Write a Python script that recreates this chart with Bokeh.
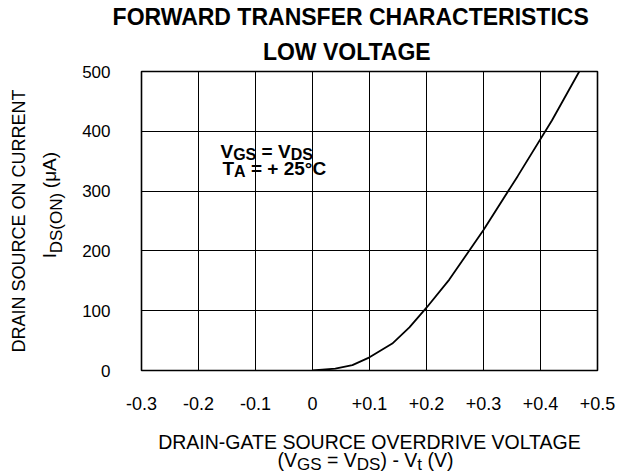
import math
from bokeh.plotting import figure
from bokeh.models import Range1d, FixedTicker, Label, LinearAxis, Title
from bokeh.embed import file_html
from bokeh.resources import INLINE

# ---- data ----
overdrive_v = [0.0, 0.04, 0.07, 0.1, 0.14, 0.17, 0.2, 0.24, 0.3, 0.36, 0.42, 0.468]
drain_current_ua = [0, 3, 9, 22, 45, 72, 105, 152, 235, 325, 418, 500]
x_ticks = [-0.3, -0.2, -0.1, 0, 0.1, 0.2, 0.3, 0.4, 0.5]
x_tick_labels = ["-0.3", "-0.2", "-0.1", "0", "+0.1", "+0.2", "+0.3", "+0.4", "+0.5"]
y_ticks = [0, 100, 200, 300, 400, 500]

title_lines = ["FORWARD TRANSFER CHARACTERISTICS", "LOW VOLTAGE"]
y_title_1 = "DRAIN SOURCE ON CURRENT"
y_title_2 = [("I", False), ("DS(ON)", True), (" (μA)", False)]
x_title_1 = "DRAIN-GATE SOURCE OVERDRIVE VOLTAGE"
x_title_2 = [("(V", False), ("GS", True), (" = V", False), ("DS", True), (") - V", False),
             ("t", True), (" (V)", False)]
note_1 = [("V", False), ("GS", True), (" = V", False), ("DS", True)]
note_2 = [("T", False), ("A", True), (" = + 25°C", False)]

FONT = "Liberation Sans"
W, H = 623, 476
FL, FR, FT, FB = 141, 597, 71, 373          # frame edges (canvas px)
X0, X1 = -0.3, 0.5
Y0, Y1 = 0, 500

p = figure(width=W, height=H, x_range=Range1d(X0, X1), y_range=Range1d(Y0, Y1),
           output_backend="svg", toolbar_location=None, title_location=None,
           min_border_left=FL, min_border_right=W - FR, min_border_top=FT,
           min_border_bottom=H - FB)
p.background_fill_color = "white"
p.border_fill_color = "white"
p.outline_line_color = "black"
p.outline_line_width = 1.6
p.outline_line_alpha = 1.0


def plain_axis(ax):
    ax.axis_line_color = None
    ax.major_tick_line_color = None
    ax.minor_tick_line_color = None
    ax.major_tick_out = 0
    ax.major_tick_in = 0
    ax.minor_tick_out = 0
    ax.minor_tick_in = 0
    ax.major_label_text_font = FONT
    ax.major_label_text_color = "black"
    ax.axis_label_text_font = FONT
    ax.axis_label_text_font_style = "normal"
    ax.axis_label_text_color = "black"


xa = p.xaxis[0]
ya = p.yaxis[0]
plain_axis(xa)
plain_axis(ya)
xa.ticker = FixedTicker(ticks=x_ticks)
xa.major_label_overrides = {t: l for t, l in zip(x_ticks, x_tick_labels)}
xa.major_label_text_font_size = "18px"
xa.major_label_standoff = 26
xa.axis_label = x_title_1
xa.axis_label_text_font_size = "19.5px"
xa.axis_label_standoff = 18

ya.ticker = FixedTicker(ticks=y_ticks)
ya.major_label_text_font_size = "17px"
ya.major_label_standoff = 31

p.xgrid.ticker = FixedTicker(ticks=x_ticks)
p.ygrid.ticker = FixedTicker(ticks=y_ticks)
for g in (p.xgrid[0], p.ygrid[0]):
    g.grid_line_color = "black"
    g.grid_line_width = 1
    g.grid_line_alpha = 1.0

p.line(overdrive_v, drain_current_ua, line_color="black", line_width=1.8)

# ---- text metrics (Liberation Sans = Arial metrics) ----
REG = {' ': 278, '(': 333, ')': 333, '-': 333, '=': 584, '+': 584, '.': 278, '°': 400,
       'μ': 576, 'A': 667, 'C': 722, 'D': 722, 'G': 778, 'I': 278, 'N': 722, 'O': 778,
       'S': 667, 'T': 611, 'V': 667, 't': 278}
BOLD = {' ': 278, '=': 584, '+': 584, '°': 400, 'A': 722, 'C': 722, 'D': 722, 'G': 778,
        'S': 667, 'T': 611, 'V': 667, 'F': 611, 'O': 778, 'R': 722, 'W': 944, 'N': 722,
        'E': 667, 'H': 722, 'I': 278, 'L': 611}


def tw(s, size, bold=False):
    tab = BOLD if bold else REG
    return sum(tab.get(c, 556) for c in s) * size / 1000.0


def dx(px):
    return X0 + (px - FL) / (FR - FL) * (X1 - X0)


def dy(py):
    return Y0 + (FB - py) / (FB - FT) * (Y1 - Y0)


def layout_pieces(pieces, size, sub_size, bold=False):
    out = []
    off = 0.0
    for t, sub in pieces:
        s = sub_size if sub else size
        lead = len(t) - len(t.lstrip(' '))
        txt = t.strip(' ')
        out.append((txt, sub, off + tw(' ' * lead, s, bold), tw(txt, s, bold)))
        off += tw(t, s, bold)
    return out, off


def rich_axis(pieces, size, sub_size, center, side, std_norm, std_sub):
    items, total = layout_pieces(pieces, size, sub_size)
    norm_t, norm_l, sub_t, sub_l = [], [], [], []
    for txt, sub, o, w in items:
        if side == "below":
            c = dx(center - total / 2 + o + w / 2)
        else:
            c = dy(center + total / 2 - o - w / 2)
        (sub_t if sub else norm_t).append(c)
        (sub_l if sub else norm_l).append(txt)
    made = []
    for ticks, labs, fs, std in ((norm_t, norm_l, size, std_norm), (sub_t, sub_l, sub_size, std_sub)):
        ax = LinearAxis(ticker=FixedTicker(ticks=ticks))
        plain_axis(ax)
        ax.major_label_overrides = {t: l for t, l in zip(ticks, labs)}
        ax.major_label_text_font_size = f"{fs}px"
        ax.major_label_standoff = std
        if side == "left":
            ax.major_label_orientation = "parallel"
        made.append(ax)
    return made


# bottom: main x axis (ticks + line 1), then line 2 subscripts, then line 2 normal text
bn, bs = rich_axis(x_title_2, 19.5, 17, 365, "below", -28, -1)
p.add_layout(bs, "below")
p.add_layout(bn, "below")

# left: main y axis, then line 2 subscripts, then line 2 normal, then line 1
ln, ls = rich_axis(y_title_2, 19, 17, 206, "left", -16, 13)
p.add_layout(ls, "left")
p.add_layout(ln, "left")
l1 = LinearAxis(ticker=FixedTicker(ticks=[]))
plain_axis(l1)
l1.major_label_standoff = 0
l1.axis_label = y_title_1
l1.axis_label_text_font_size = "18px"
l1.axis_label_standoff = 8
p.add_layout(l1, "left")

# titles (first added is nearest the frame); left-aligned with offsets from frame left
T_SIZE = 23
t_centers = [351, 348]
for idx, std in ((1, 13), (0, 1)):
    txt = title_lines[idx]
    left = t_centers[idx] - tw(txt, T_SIZE, True) / 2
    p.add_layout(Title(text=txt, align="left", offset=left - FL, standoff=std,
                       text_font=FONT, text_font_size=f"{T_SIZE}px", text_font_style="bold",
                       text_color="black"), "above")


# annotation inside the frame
def note(pieces, x_px, base_px):
    items, _ = layout_pieces(pieces, 19, 16, bold=True)
    for txt, sub, o, w in items:
        p.add_layout(Label(x=dx(x_px + o), y=dy(base_px + (2.5 if sub else 0)), text=txt,
                           text_font=FONT, text_font_size="16px" if sub else "19px",
                           text_font_style="bold", text_color="black",
                           text_align="left", text_baseline="alphabetic"))


note(note_1, 220, 152.3)
note(note_2, 222, 169.2)

open("out.html", "w").write(file_html(p, INLINE))
